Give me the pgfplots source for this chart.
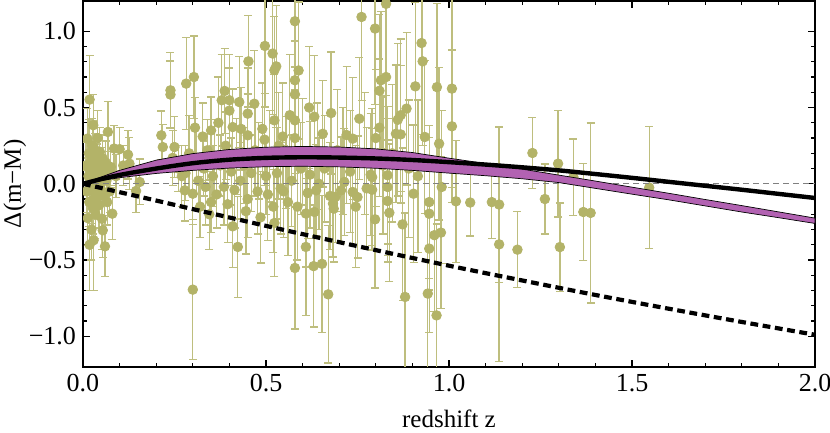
\documentclass[border=0pt]{standalone}
\usepackage{fontspec}
\setmainfont{Liberation Serif}
\usepackage{pgfplots}
\pgfplotsset{compat=1.18}

\definecolor{dotc}{RGB}{179,179,104}
\definecolor{barc}{RGB}{190,190,126}
\definecolor{bandc}{RGB}{178,98,178}

% supernova residuals: z, Delta(m-M), error
\pgfplotstableread{
z d e
0.008 0.12 0.15
0.010 -0.05 0.14
0.012 0.296 0.20
0.013 -0.225 0.18
0.015 0.05 0.12
0.016 0.20 0.22
0.017 -0.12 0.16
0.018 0.552 0.29
0.018 -0.40 0.30
0.019 0.08 0.12
0.020 -0.02 0.13
0.022 0.15 0.14
0.023 -0.30 0.20
0.024 -0.11 0.15
0.025 0.25 0.18
0.026 0.02 0.10
0.027 -0.16 0.17
0.028 0.384 0.20
0.029 0.241 0.17
0.029 -0.37 0.33
0.030 0.10 0.12
0.032 -0.06 0.12
0.033 0.18 0.15
0.034 -0.20 0.16
0.036 0.05 0.10
0.037 0.13 0.13
0.038 -0.09 0.14
0.040 0.30 0.18
0.041 0.00 0.10
0.043 0.067 0.12
0.044 -0.14 0.15
0.046 0.21 0.16
0.048 -0.03 0.12
0.050 0.11 0.13
0.052 -0.23 0.20
0.053 0.17 0.15
0.054 -0.305 0.18
0.056 0.04 0.11
0.058 -0.08 0.13
0.060 -0.41 0.20
0.062 0.14 0.14
0.064 0.02 0.12
0.066 -0.12 0.15
0.068 0.34 0.20
0.070 0.08 0.13
0.073 -0.05 0.14
0.076 0.11 0.12
0.080 -0.196 0.17
0.085 0.231 0.15
0.090 0.05 0.14
0.100 0.227 0.14
0.110 0.12 0.13
0.123 0.191 0.16
0.127 0.132 0.17
0.145 -0.047 0.14
0.155 0.012 0.15
0.214 0.318 0.16
0.218 0.241 0.15
0.239 0.613 0.25
0.239 0.585 0.22
0.250 0.241 0.20
0.245 0.17 0.18
0.260 0.10 0.15
0.270 0.05 0.20
0.278 -0.043 0.20
0.280 0.07 0.18
0.282 0.657 0.30
0.290 0.20 0.25
0.300 -0.694 0.46
0.300 -0.065 0.20
0.303 0.70 0.27
0.306 0.368 0.20
0.310 0.15 0.22
0.315 0.02 0.18
0.320 -0.15 0.20
0.327 0.31 0.22
0.330 0.10 0.18
0.335 -0.02 0.25
0.340 0.22 0.20
0.345 -0.20 0.23
0.350 -0.12 0.20
0.350 0.35 0.22
0.355 0.05 0.20
0.360 0.17 0.25
0.365 -0.07 0.22
0.370 0.40 0.30
0.375 0.12 0.20
0.379 0.548 0.30
0.385 -0.02 0.25
0.387 0.609 0.28
0.390 0.25 0.22
0.395 -0.134 0.25
0.400 0.548 0.30
0.400 0.48 0.28
0.405 0.08 0.22
0.409 0.372 0.25
0.409 -0.279 0.27
0.414 -0.04 0.25
0.420 0.18 0.25
0.423 -0.414 0.33
0.427 0.536 0.30
0.430 0.02 0.25
0.432 0.36 0.27
0.440 0.12 0.25
0.445 -0.18 0.28
0.450 0.46 0.30
0.450 0.318 0.27
0.450 -0.10 0.25
0.452 0.803 0.30
0.460 0.07 0.25
0.468 0.525 0.35
0.470 0.22 0.30
0.477 -0.05 0.28
0.480 0.15 0.25
0.485 -0.22 0.30
0.490 0.36 0.30
0.496 0.29 0.30
0.497 0.904 0.40
0.500 0.05 0.25
0.505 -0.07 0.30
0.510 0.18 0.30
0.518 0.854 0.40
0.520 -0.15 0.30
0.523 0.745 0.35
0.523 0.416 0.30
0.523 -0.257 0.35
0.528 0.77 0.40
0.530 0.07 0.30
0.535 0.25 0.35
0.540 -0.03 0.30
0.546 0.31 0.35
0.548 -0.05 0.30
0.555 0.14 0.30
0.560 -0.12 0.35
0.565 0.45 0.40
0.570 0.02 0.30
0.579 1.066 0.45
0.579 0.679 0.40
0.579 0.586 0.35
0.579 0.416 0.35
0.579 0.30 0.30
0.579 -0.552 0.40
0.586 -0.15 0.35
0.589 0.743 0.45
0.595 0.10 0.30
0.600 0.21 0.35
0.609 -0.195 0.35
0.609 -0.414 0.45
0.614 -0.06 0.30
0.618 0.50 0.40
0.620 0.06 0.35
0.630 -0.54 0.40
0.632 0.44 0.40
0.632 -0.185 0.35
0.637 -0.043 0.30
0.640 0.18 0.35
0.645 0.00 0.30
0.653 -0.525 0.45
0.655 0.328 0.35
0.660 0.10 0.35
0.670 -0.725 0.45
0.675 -0.08 0.35
0.678 0.464 0.40
0.683 -0.13 0.35
0.685 -0.163 0.35
0.690 -0.085 0.30
0.695 0.22 0.40
0.705 -0.043 0.35
0.710 0.15 0.35
0.714 0.012 0.35
0.720 0.32 0.45
0.730 0.08 0.40
0.737 0.296 0.40
0.737 -0.054 0.35
0.745 -0.15 0.40
0.750 -0.087 0.40
0.755 0.427 0.40
0.761 1.094 0.55
0.770 0.20 0.40
0.775 -0.03 0.40
0.786 0.06 0.40
0.790 0.044 0.45
0.790 -0.039 0.40
0.798 1.018 0.50
0.798 -0.233 0.45
0.800 0.30 0.45
0.810 0.61 0.50
0.810 0.368 0.45
0.814 0.679 0.45
0.820 0.12 0.45
0.828 0.70 0.50
0.828 1.18 0.60
0.832 0.056 0.45
0.832 -0.021 0.45
0.832 -0.113 0.40
0.837 -0.19 0.45
0.845 0.20 0.45
0.855 0.328 0.45
0.860 0.42 0.50
0.868 0.45 0.50
0.868 0.324 0.45
0.873 -0.266 0.50
0.880 -0.742 0.55
0.884 0.493 0.50
0.890 0.10 0.45
0.903 -0.065 0.45
0.908 0.639 0.55
0.915 0.05 0.50
0.925 0.923 0.60
0.928 0.803 0.55
0.934 0.307 0.50
0.942 -0.72 0.60
0.946 -0.12 0.50
0.946 -0.196 0.50
0.946 -0.425 0.55
0.960 -0.337 0.50
0.966 -0.863 0.60
0.967 0.634 0.55
0.973 0.263 0.50
0.978 -0.32 0.50
0.980 -0.021 0.50
1.008 0.624 0.65
1.008 0.377 0.50
1.019 -0.115 0.40
1.058 -0.123 0.22
1.117 -0.12 0.24
1.137 -0.136 0.51
1.137 -0.397 0.77
1.187 -0.432 0.25
1.228 0.202 0.235
1.262 -0.10 0.23
1.298 0.132 0.35
1.303 -0.415 0.29
1.340 0.044 0.25
1.367 -0.185 0.32
1.387 -0.191 0.59
1.547 -0.025 0.40
}\sndata

\begin{document}
\begin{tikzpicture}
\begin{axis}[
  name=ax,
  scale only axis,
  width=366pt, height=183pt,
  xmin=0, xmax=2, ymin=-1.2, ymax=1.2,
  xtick={0,0.5,1,1.5,2},
  xticklabels={0.0,0.5,1.0,1.5,2.0},
  ytick={-1,-0.5,0,0.5,1},
  yticklabels={−1.0,−0.5,0.0,0.5,1.0},
  minor x tick num=4, minor y tick num=4,
  tick align=inside, tick pos=both,
  major tick length=3.6pt, minor tick length=2pt,
  axis line style={line width=0.8pt},
  every tick/.style={black, line width=0.6pt},
  tick label style={font=\fontsize{13}{15}\selectfont},
  xlabel={redshift z},
  ylabel={Δ(m−M)},
  every axis y label/.style={at={(axis description cs:-0.093,0.5)}, rotate=90,
    anchor=center, font=\fontsize{12.5}{14}\selectfont},
  every axis x label/.style={at={(axis description cs:0.5,-0.142)},
    anchor=center, font=\fontsize{12.5}{14}\selectfont},
  clip marker paths=true,
]
% data with error bars
\addplot[only marks, mark=*, mark size=2.4pt, color=dotc,
  mark options={draw=none, fill=dotc},
  error bars/.cd, y dir=both, y explicit,
  error bar style={color=barc, line width=0.65pt},
  error mark options={rotate=90, mark size=2pt, color=barc, line width=0.65pt}]
  table[x=z, y=d, y error=e] {\sndata};

% zero reference
\addplot[gray, line width=0.4pt, dash pattern=on 3pt off 2pt]
  coordinates {(0,0) (2,0)};

% allowed band
\addplot[fill=bandc, draw=black, line width=0.35pt] coordinates {
  (0,0) (0.05,0.045) (0.1,0.088) (0.2,0.155) (0.3,0.198) (0.4,0.225)
  (0.5,0.240) (0.6,0.245) (0.7,0.241) (0.8,0.229) (0.9,0.205) (1.0,0.168)
  (1.1,0.133) (1.2,0.096) (1.3,0.057) (1.4,0.018) (1.5,-0.022) (1.6,-0.062)
  (1.7,-0.103) (1.8,-0.143) (1.9,-0.184) (2.0,-0.225)
  (2.0,-0.260) (1.9,-0.222) (1.8,-0.185) (1.7,-0.145) (1.6,-0.105)
  (1.5,-0.068) (1.4,-0.030) (1.3,0.008) (1.2,0.033) (1.1,0.053) (1.0,0.070)
  (0.9,0.088) (0.8,0.102) (0.7,0.111) (0.6,0.115) (0.5,0.112) (0.4,0.103)
  (0.3,0.088) (0.2,0.068) (0.1,0.040) (0.05,0.021) (0,0)
} -- cycle;

% best fit
\addplot[black, line width=2.2pt, smooth] coordinates {
  (0,0) (0.05,0.031) (0.1,0.058) (0.2,0.100) (0.3,0.135) (0.4,0.158)
  (0.5,0.170) (0.6,0.174) (0.7,0.172) (0.8,0.166) (0.9,0.156) (1.0,0.142)
  (1.1,0.126) (1.2,0.108) (1.3,0.088) (1.4,0.064) (1.5,0.039) (1.6,0.013)
  (1.7,-0.013) (1.8,-0.039) (1.9,-0.066) (2.0,-0.093)
};

% Einstein-de Sitter
\addplot[black, line width=2.1pt, dash pattern=on 3.9pt off 2.3pt, smooth] coordinates {
  (0,0) (0.1,-0.055) (0.2,-0.110) (0.3,-0.166) (0.4,-0.221) (0.5,-0.276)
  (0.6,-0.330) (0.8,-0.435) (1.0,-0.537) (1.2,-0.634) (1.4,-0.729)
  (1.6,-0.819) (1.8,-0.906) (2.0,-0.990)
};
\end{axis}
\pgfresetboundingbox
\path[use as bounding box] ([xshift=-41.5pt,yshift=-33pt]ax.south west)
  rectangle ([xshift=7.5pt,yshift=0.4pt]ax.north east);
\end{tikzpicture}
\end{document}
